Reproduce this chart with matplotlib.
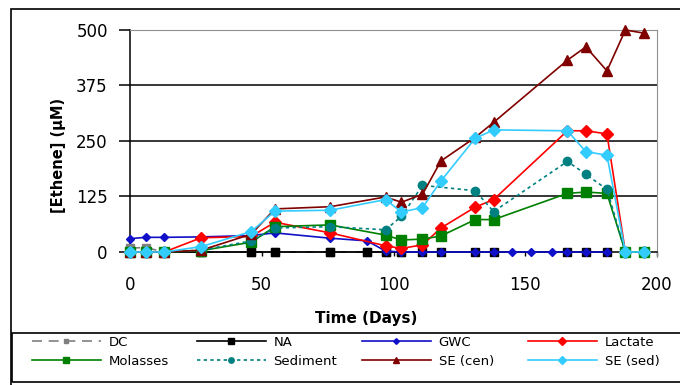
import numpy as np
import matplotlib
matplotlib.use("Agg")
import matplotlib.pyplot as plt
from matplotlib.patches import Rectangle

nan = np.nan

# Sampling days
days = [0, 6, 13, 27, 46, 55, 76, 90, 97, 103, 111, 118, 131, 138,
        145, 152, 160, 166, 173, 181, 188, 195]

# Ethene concentrations (uM) for each treatment
dc = [9, 10, 0, 0, 0, 0, 0, 0, 0, 0, nan, nan, nan, nan,
      nan, nan, nan, nan, nan, nan, nan, nan]
na = [nan, nan, 0, 0, 0, 0, 0, 0, 0, 0, 0, 0, 0, 0,
      nan, nan, nan, 0, 0, 0, nan, nan]
gwc = [30, 33, 33, 34, 37, 43, 31, 25, 2, 0, 0, 0, 0, 0,
       0, 0, 0, 0, 0, 0, nan, nan]
lactate = [0, 0, 0, 32, 35, 67, 43, nan, 14, 8, 16, 54, 101, 118,
           nan, nan, nan, 273, 273, 266, 0, 0]
molasses = [0, 0, 0, 3, 22, 57, 61, nan, 38, 27, 29, 36, 73, 73,
            nan, nan, nan, 132, 135, 132, 0, 0]
sediment = [0, 0, 0, 4, 25, 54, 57, nan, 50, 80, 150, nan, 138, 91,
            nan, nan, nan, 204, 175, 141, 0, 0]
se_cen = [0, 0, 0, 4, 40, 97, 102, nan, 124, 112, 130, 205, 258, 292,
          nan, nan, nan, 432, 462, 408, 500, 493]
se_sed = [0, 0, 0, 12, 46, 92, 94, nan, 118, 90, 100, 160, 256, 275,
          nan, nan, nan, 273, 226, 218, 0, 0]

labels = ["DC", "NA", "GWC", "Lactate", "Molasses", "Sediment",
          "SE (cen)", "SE (sed)"]
series = [dc, na, gwc, lactate, molasses, sediment, se_cen, se_sed]
styles = [
    dict(color="#808080", ls=(0, (6, 4)), marker="s", ms=5.5),
    dict(color="#000000", ls="-", marker="s", ms=6),
    dict(color="#1010C8", ls="-", marker="D", ms=4.5),
    dict(color="#FF0000", ls="-", marker="D", ms=6.5),
    dict(color="#008000", ls="-", marker="s", ms=6.5),
    dict(color="#008080", ls=(0, (2, 2)), marker="o", ms=6),
    dict(color="#800000", ls="-", marker="^", ms=6.5),
    dict(color="#33CCFF", ls="-", marker="D", ms=6.5),
]

W, H = 680, 385
fig = plt.figure(figsize=(W / 100, H / 100), dpi=100)
fig.patch.set_facecolor("white")

def fx(px):
    return px / W

def fy(py):
    return 1 - py / H

ax = fig.add_axes([fx(130), fy(257), fx(657) - fx(130), fy(30) - fy(257)])

x = np.array(days, dtype=float)
handles = []
for lab, vals, st in zip(labels, series, styles):
    v = np.array(vals, dtype=float)
    m = ~np.isnan(v)
    ln, = ax.plot(x[m], v[m], color=st["color"], ls=st["ls"], lw=1.2,
                  marker=st["marker"], ms=st["ms"], mfc=st["color"],
                  mec=st["color"], clip_on=False, zorder=3)
    handles.append(ln)

ax.set_xlim(0, 200)
ax.set_ylim(-11.3, 500)
ax.set_xticks([0, 50, 100, 150, 200])
ax.set_yticks([0, 125, 250, 375, 500])
for yv in [125, 250, 375, 500]:
    ax.axhline(yv, color="black", lw=1.1, zorder=1)

ax.spines["left"].set_color("black")
ax.spines["left"].set_linewidth(1.1)
ax.spines["bottom"].set_position(("data", 0))
ax.spines["bottom"].set_color("black")
ax.spines["bottom"].set_linewidth(1.1)
ax.spines["right"].set_color("#909090")
ax.spines["top"].set_color("#909090")

ax.tick_params(axis="y", direction="out", length=8, width=1.1, pad=8,
               labelsize=12, colors="black")
ax.tick_params(axis="x", direction="out", length=3, width=1, pad=14,
               labelsize=12, colors="black")

fig.text(fx(58), fy(155), "[Ethene] (µM)", fontsize=10.5, fontweight="bold",
         rotation=90, ha="center", va="center")
fig.text(fx(366), fy(318), "Time (Days)", fontsize=11, fontweight="bold",
         ha="center", va="center")

# Outer chart frame
fig.add_artist(Rectangle((fx(11), fy(386)), fx(690) - fx(11),
                         fy(9) - fy(386), transform=fig.transFigure,
                         fill=False, ec="black", lw=1.2))
# Legend frame
fig.add_artist(Rectangle((fx(12), fy(382)), fx(690) - fx(12),
                         fy(333) - fy(382), transform=fig.transFigure,
                         fill=False, ec="black", lw=1.2))

# Legend: four columns, two rows each
col_x = [32, 197, 362, 528]
for c in range(4):
    hs = [handles[c], handles[c + 4]]
    ls = [labels[c], labels[c + 4]]
    leg = fig.legend(hs, ls, loc="upper left",
                     bbox_to_anchor=(fx(col_x[c]), fy(336)),
                     frameon=False, fontsize=9.5, handlelength=5.2,
                     handletextpad=0.6, borderpad=0, borderaxespad=0,
                     labelspacing=0.45, numpoints=1, markerscale=0.65)
    for t in leg.get_texts():
        t.set_color("black")

fig.savefig("out.png", dpi=100)
